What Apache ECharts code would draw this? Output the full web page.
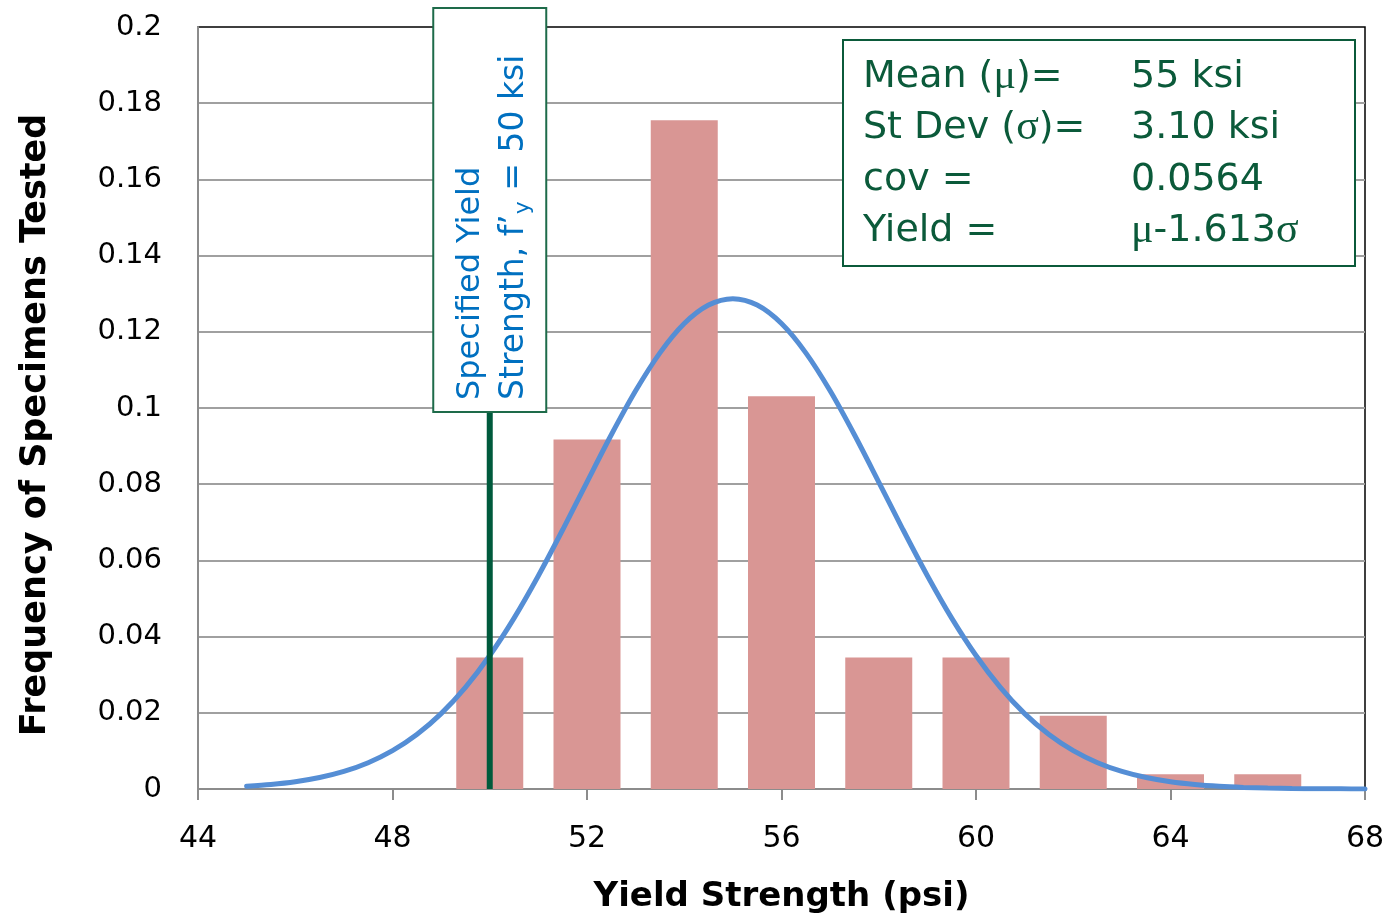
<!DOCTYPE html>
<html>
<head>
<meta charset="utf-8">
<title>Yield Strength Distribution</title>
<script src="https://cdn.jsdelivr.net/npm/echarts@6/dist/echarts.min.js"></script>
<style>
  html, body { margin: 0; padding: 0; background: #fff; }
  #chart { width: 1389px; height: 920px; }
</style>
</head>
<body>
<div id="chart"></div>
<script>
// Histogram bins (centre of each bin, ksi) and relative frequency
const binCentres = [50, 52, 54, 56, 58, 60, 62, 64, 66];
const binFrequency = [0.0345, 0.0917, 0.1755, 0.1031, 0.0345, 0.0345, 0.0192, 0.0039, 0.0039];

// Fitted normal curve (mu = 55, sigma = 3.10) read at half-ksi steps
const curveX = [45, 45.5, 46, 46.5, 47, 47.5, 48, 48.5, 49, 49.5, 50, 50.5, 51, 51.5,
  52, 52.5, 53, 53.5, 54, 54.5, 55, 55.5, 56, 56.5, 57, 57.5, 58, 58.5, 59, 59.5,
  60, 60.5, 61, 61.5, 62, 62.5, 63, 63.5, 64, 64.5, 65, 65.5, 66, 66.5, 67, 67.5, 68];
const curveY = [0.00071, 0.00118, 0.00190, 0.00300, 0.00461, 0.00690, 0.01006, 0.01429,
  0.01978, 0.02667, 0.03504, 0.04486, 0.05598, 0.06804, 0.08057, 0.09297, 0.10451,
  0.11447, 0.12217, 0.12703, 0.12869, 0.12703, 0.12217, 0.11447, 0.10451, 0.09297,
  0.08057, 0.06804, 0.05598, 0.04486, 0.03504, 0.02667, 0.01978, 0.01429, 0.01006,
  0.00690, 0.00461, 0.00300, 0.00190, 0.00118, 0.00071, 0.00042, 0.00024, 0.00013,
  0.00007, 0.00004, 0.00002];

// Specified yield strength marker
const specifiedYield = 50;
const specifiedLineTop = 0.1;

// Summary statistics box
const statLabels = [
  [{ t: 'Mean (' }, { g: 'μ' }, { t: ')=' }],
  [{ t: 'St Dev (' }, { g: 'σ' }, { t: ')=' }],
  [{ t: 'cov =' }],
  [{ t: 'Yield =' }]
];
const statValues = [
  [{ t: '55 ksi' }],
  [{ t: '3.10 ksi' }],
  [{ t: '0.0564' }],
  [{ g: 'μ' }, { t: '-1.613' }, { g: 'σ' }]
];

// Axis ranges
const xRange = { min: 44, max: 68, interval: 4 };
const yRange = { min: 0, max: 0.2, interval: 0.02 };

const chart = echarts.init(document.getElementById('chart'), null, { renderer: 'canvas' });

const tickFont = 'DejaVu Sans';
const statColor = '#0b5a3a';
const noteColor = '#0070c0';

function richString(parts) {
  return parts.map(p => p.g ? '{g|' + p.g + '}' : '{t|' + p.t + '}').join('');
}

const option = {
  animation: false,
  backgroundColor: '#ffffff',
  grid: {
    left: 198, right: 24, top: 27, bottom: 131,
    outerBoundsMode: 'none',
    containLabel: false,
    show: true, borderColor: '#000000', borderWidth: 1.5, backgroundColor: 'transparent'
  },
  xAxis: {
    type: 'value',
    min: xRange.min, max: xRange.max, interval: xRange.interval,
    name: 'Yield Strength (psi)',
    nameLocation: 'middle',
    nameGap: 91,
    nameTextStyle: { fontFamily: 'DejaVu Sans', fontWeight: 'bold', fontSize: 34, color: '#000' },
    axisLine: { show: true, onZero: false, lineStyle: { color: '#8c8c8c', width: 2 } },
    axisTick: { show: true, length: 11, lineStyle: { color: '#8c8c8c', width: 2 } },
    axisLabel: { fontFamily: tickFont, fontSize: 30, color: '#000', margin: 35 },
    splitLine: { show: false }
  },
  yAxis: {
    type: 'value',
    min: yRange.min, max: yRange.max, interval: yRange.interval,
    axisLine: { show: true, lineStyle: { color: '#8c8c8c', width: 2 } },
    axisTick: { show: false },
    axisLabel: {
      fontFamily: tickFont, fontSize: 29, color: '#000', margin: 36,
      formatter: v => String(+v.toFixed(2))
    },
    splitLine: { show: true, showMaxLine: false, lineStyle: { color: '#a0a0a0', width: 2 } }
  },
  series: [
    {
      name: 'Frequency',
      type: 'bar',
      data: binCentres.map((c, i) => [c, binFrequency[i]]),
      barWidth: 67,
      itemStyle: { color: '#d99694' },
      z: 2
    },
    {
      name: 'Normal fit',
      type: 'line',
      data: curveX.map((x, i) => [x, curveY[i]]),
      smooth: 0.3,
      showSymbol: false,
      lineStyle: { color: '#558ed5', width: 5, cap: 'round' },
      z: 3
    },
    {
      name: 'Specified yield',
      type: 'line',
      data: [[specifiedYield, 0], [specifiedYield, specifiedLineTop]],
      showSymbol: false,
      lineStyle: { color: '#005a3c', width: 6 },
      z: 4
    }
  ]
};

chart.setOption(option);

// Annotations positioned from the axis scales
const base = chart.convertToPixel({ gridIndex: 0 }, [specifiedYield, specifiedLineTop]);
const boxTop = 8;
const boxW = 113;

const statRich = {
  t: { fontFamily: 'DejaVu Sans', fontSize: 38, fill: statColor },
  g: { fontFamily: 'Liberation Serif', fontSize: 42, fill: statColor }
};
const statRowY = [77, 128, 180, 231];

const graphics = [
  // y-axis title
  {
    type: 'text',
    x: 36, y: 425,
    rotation: Math.PI / 2,
    style: {
      text: 'Frequency of Specimens Tested',
      fontFamily: 'DejaVu Sans', fontWeight: 'bold', fontSize: 35, fill: '#000',
      align: 'center', verticalAlign: 'middle'
    },
    z: 10
  },
  // specified-yield note box
  {
    type: 'rect',
    shape: { x: base[0] - boxW / 2, y: boxTop, width: boxW, height: base[1] + 4 - boxTop },
    style: { fill: '#ffffff', stroke: '#1e6b4a', lineWidth: 2 },
    z: 20
  },
  {
    type: 'text',
    x: base[0] - 19, y: base[1] - 8,
    rotation: Math.PI / 2,
    style: {
      text: 'Specified Yield',
      fontFamily: 'DejaVu Sans', fontSize: 32, fill: noteColor,
      align: 'left', verticalAlign: 'middle'
    },
    z: 21
  },
  {
    type: 'text',
    x: base[0] + 25, y: base[1] - 8,
    rotation: Math.PI / 2,
    style: {
      text: '{a|Strength, f’}{s|y}{a| = 50 ksi}',
      align: 'left', verticalAlign: 'middle',
      rich: {
        a: { fontFamily: 'DejaVu Sans', fontSize: 33, fill: noteColor, lineHeight: 40 },
        s: { fontFamily: 'DejaVu Sans', fontSize: 22, fill: noteColor, lineHeight: 40, verticalAlign: 'bottom', padding: [14, 0, 0, 0] }
      }
    },
    z: 21
  },
  // statistics box
  {
    type: 'rect',
    shape: { x: 843, y: 40, width: 512, height: 226 },
    style: { fill: '#ffffff', stroke: statColor, lineWidth: 2 },
    z: 20
  }
];

statLabels.forEach((row, i) => {
  graphics.push({
    type: 'text', x: 863, y: statRowY[i], z: 21,
    style: { text: richString(row), rich: statRich, align: 'left', verticalAlign: 'middle' }
  });
  graphics.push({
    type: 'text', x: 1131, y: statRowY[i], z: 21,
    style: { text: richString(statValues[i]), rich: statRich, align: 'left', verticalAlign: 'middle' }
  });
});

chart.setOption({ graphic: graphics });
</script>
</body>
</html>
